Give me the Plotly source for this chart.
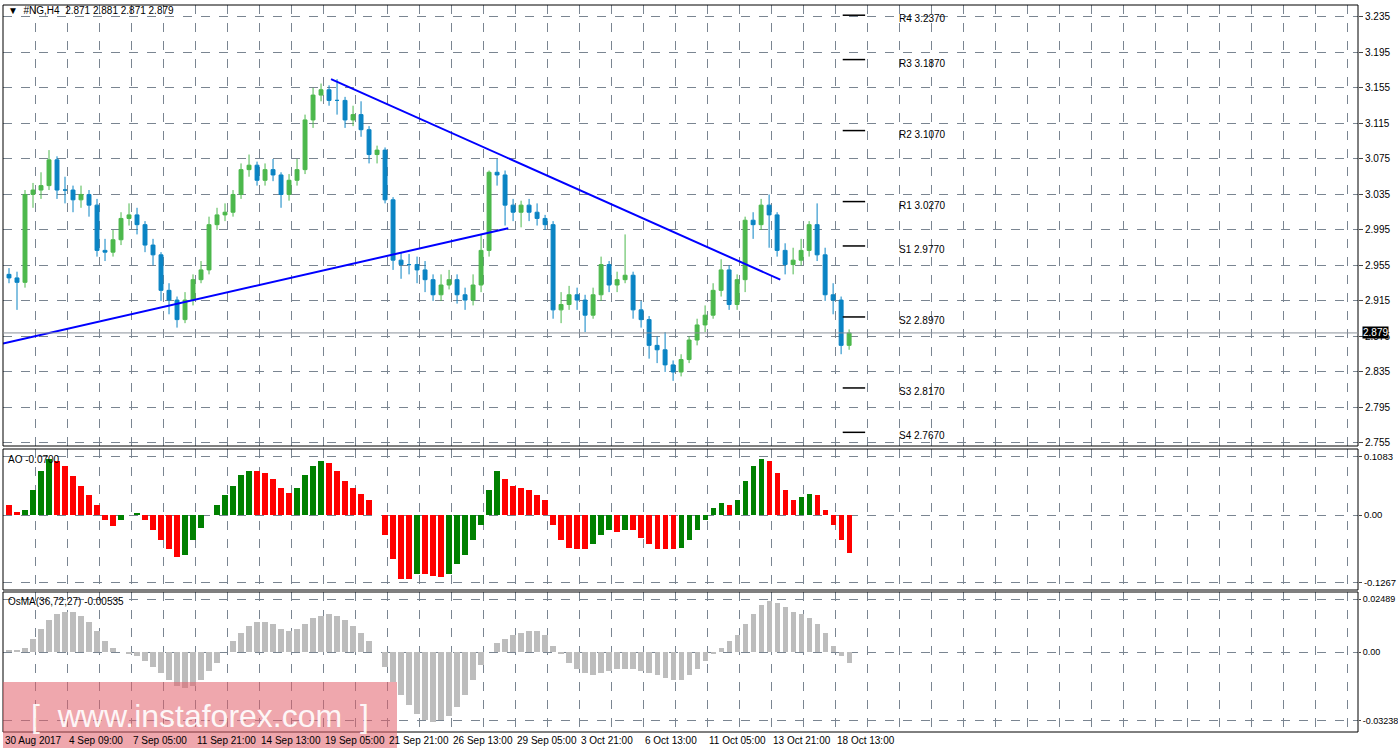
import plotly.graph_objects as go

close = [2.941,2.936,3.035,3.040,3.045,3.074,3.040,3.040,3.029,3.035,3.023,2.972,2.970,2.984,3.008,3.012,3.001,2.978,2.967,2.927,
         2.916,2.894,2.916,2.939,2.950,3.001,3.012,3.015,3.035,3.063,3.068,3.051,3.063,3.057,3.035,3.051,3.063,3.119,3.147,3.153,
         3.141,3.141,3.119,3.125,3.108,3.080,3.085,3.029,2.961,2.956,2.956,2.950,2.939,2.922,2.933,2.939,2.922,2.916,2.933,2.972,
         3.060,3.057,3.023,3.015,3.023,3.015,3.008,3.001,2.905,2.911,2.922,2.916,2.899,2.922,2.956,2.933,2.939,2.944,2.905,2.894,
         2.865,2.860,2.843,2.835,2.849,2.871,2.888,2.899,2.927,2.950,2.911,2.939,3.006,3.001,3.023,3.012,2.972,2.956,2.961,2.972,
         3.001,2.967,2.922,2.916,2.865,2.879]
high = [2.952,2.948,3.040,3.048,3.060,3.085,3.078,3.055,3.045,3.045,3.040,3.030,2.985,2.995,3.015,3.025,3.020,3.005,2.985,2.970,
        2.935,2.920,2.925,2.945,2.960,3.010,3.020,3.025,3.040,3.070,3.080,3.072,3.070,3.075,3.060,3.058,3.075,3.125,3.155,3.160,
        3.158,3.165,3.145,3.135,3.140,3.112,3.090,3.088,3.032,2.970,2.968,2.965,2.960,2.945,2.945,2.950,2.945,2.930,2.945,2.990,
        3.062,3.075,3.062,3.030,3.028,3.030,3.025,3.012,3.005,2.925,2.932,2.930,2.922,2.930,2.965,2.960,2.948,2.990,2.948,2.915,
        2.898,2.875,2.880,2.848,2.855,2.875,2.895,2.910,2.935,2.962,2.955,2.945,3.010,3.015,3.030,3.035,3.015,2.980,2.975,2.985,
        3.005,3.025,2.975,2.935,2.920,2.883]
low = [2.935,2.905,2.930,3.020,3.030,3.040,3.030,3.025,3.015,3.020,3.010,2.965,2.960,2.965,2.978,3.000,2.990,2.970,2.955,2.915,
       2.900,2.885,2.890,2.910,2.935,2.945,2.995,3.005,3.010,3.030,3.055,3.045,3.045,3.050,3.020,3.028,3.045,3.058,3.110,3.140,
       3.135,3.125,3.110,3.112,3.100,3.070,3.070,3.025,2.950,2.940,2.945,2.935,2.925,2.915,2.915,2.928,2.912,2.905,2.910,2.925,
       2.965,3.045,3.000,3.005,2.998,3.005,3.000,2.995,2.895,2.890,2.905,2.905,2.880,2.895,2.915,2.925,2.925,2.935,2.895,2.885,
       2.850,2.845,2.835,2.825,2.830,2.845,2.865,2.880,2.895,2.920,2.905,2.905,2.925,2.985,2.995,2.975,2.965,2.945,2.945,2.955,
       2.965,2.960,2.915,2.900,2.855,2.860]
first_open = 2.945
ao = [0.018,0.006,0.010,0.046,0.083,0.105,0.100,0.092,0.072,0.055,0.037,0.018,-0.009,-0.020,-0.010,0.000,0.004,-0.010,-0.028,-0.046,
      -0.064,-0.079,-0.074,-0.046,-0.024,0.000,0.018,0.037,0.055,0.074,0.083,0.083,0.079,0.068,0.050,0.042,0.050,0.074,0.092,0.101,
      0.098,0.083,0.064,0.050,0.040,0.028,0.000,-0.037,-0.083,-0.120,-0.120,-0.110,-0.110,-0.114,-0.116,-0.110,-0.092,-0.074,-0.046,-0.018,
      0.046,0.083,0.068,0.055,0.050,0.046,0.037,0.028,-0.018,-0.046,-0.061,-0.064,-0.064,-0.055,-0.037,-0.028,-0.031,-0.028,-0.028,-0.042,
      -0.055,-0.064,-0.064,-0.064,-0.061,-0.046,-0.028,-0.009,0.013,0.022,0.018,0.028,0.064,0.092,0.105,0.101,0.079,0.046,0.028,0.033,
      0.040,0.037,0.009,-0.018,-0.046,-0.070]
osma = [0.001,0.001,0.002,0.006,0.011,0.015,0.018,0.019,0.019,0.017,0.014,0.010,0.005,0.002,0.000,-0.001,-0.002,-0.004,-0.007,-0.010,
        -0.013,-0.016,-0.017,-0.016,-0.013,-0.009,-0.005,0.000,0.005,0.009,0.012,0.014,0.014,0.013,0.011,0.010,0.011,0.013,0.016,0.017,
        0.018,0.017,0.015,0.012,0.009,0.005,0.000,-0.007,-0.014,-0.020,-0.025,-0.029,-0.032,-0.033,-0.032,-0.030,-0.026,-0.020,-0.013,-0.006,
        0.000,0.004,0.006,0.008,0.009,0.010,0.010,0.008,0.003,-0.001,-0.005,-0.008,-0.010,-0.011,-0.010,-0.009,-0.008,-0.008,-0.008,-0.009,
        -0.010,-0.011,-0.012,-0.013,-0.013,-0.011,-0.008,-0.004,-0.001,0.002,0.005,0.008,0.013,0.018,0.022,0.024,0.023,0.021,0.019,0.018,
        0.016,0.013,0.009,0.003,-0.002,-0.005]
pivot_names = ["R4","R3","R2","R1","S1","S2","S3","S4"]
pivot_vals = [3.237,3.187,3.107,3.027,2.977,2.897,2.817,2.767]
trend1 = ([-0.75, 62.4], [2.867, 2.997])
trend2 = ([40.25, 96.4], [3.165, 2.939])
date_labels = ["30 Aug 2017","4 Sep 09:00","7 Sep 05:00","11 Sep 21:00","14 Sep 13:00","19 Sep 05:00","21 Sep 21:00",
               "26 Sep 13:00","29 Sep 05:00","3 Oct 21:00","6 Oct 13:00","11 Oct 05:00","13 Oct 21:00","18 Oct 13:00"]
date_pos = [-0.75,7.25,15.25,23.25,31.25,39.25,47.25,55.25,63.25,71.25,79.25,87.25,95.25,103.25]
main_ticks = [2.755,2.795,2.835,2.875,2.915,2.955,2.995,3.035,3.075,3.115,3.155,3.195,3.235]
ao_ticks = [-0.1267,0.0,0.1083]
osma_ticks = [-0.03238,0.0,0.02489]
last_price = 2.879

n = len(close)
xs = list(range(n))
opens = [first_open] + close[:-1]
fig = go.Figure()
fig.add_trace(go.Candlestick(x=xs, open=opens, high=high, low=low, close=close,
    increasing=dict(line=dict(color="#4cb84c", width=1), fillcolor="#4cb84c"),
    decreasing=dict(line=dict(color="#0a84c4", width=1), fillcolor="#0a84c4"),
    whiskerwidth=0, xaxis="x", yaxis="y", showlegend=False, hoverinfo="skip"))
fig.add_trace(go.Scatter(x=trend1[0], y=trend1[1], mode="lines", line=dict(color="#0000ff", width=2), yaxis="y", showlegend=False))
fig.add_trace(go.Scatter(x=trend2[0], y=trend2[1], mode="lines", line=dict(color="#0000ff", width=2), yaxis="y", showlegend=False))
ao_col = ["#008000" if i > 0 and ao[i] > ao[i-1] else "#ff0000" for i in range(len(ao))]
fig.add_trace(go.Bar(x=list(range(len(ao))), y=ao, marker=dict(color=ao_col, line=dict(width=0)), width=0.65, yaxis="y2", showlegend=False))
fig.add_trace(go.Bar(x=list(range(len(osma))), y=osma, marker=dict(color="#bdbdbd", line=dict(width=0)), width=0.65, yaxis="y3", showlegend=False))

W, H = 1398, 750
L, R, T, B = 3, 40, 5, 18
pw, ph = W - L - R, H - T - B
def py(p): return (H - B - p) / ph
def px(p): return (p - L) / pw

FONT = "Liberation Sans"
grid = dict(showgrid=True, gridcolor="#7a8591", griddash="dash", gridwidth=1, zeroline=False)
fig.update_layout(
    width=W, height=H, margin=dict(l=L, r=R, t=T, b=B, autoexpand=False), plot_bgcolor="white", paper_bgcolor="white",
    font=dict(family=FONT, size=10, color="black"), bargap=0, barmode="overlay",
    xaxis=dict(range=[-0.75, 168.6], tick0=3.25, dtick=4, showticklabels=False, rangeslider=dict(visible=False), **grid),
    yaxis=dict(domain=[py(446), 1], range=[2.7516, 3.2485], side="right", tickvals=main_ticks,
               ticktext=[f"{v:.3f}" for v in main_ticks], ticks="outside", ticklen=4, **grid),
    yaxis2=dict(domain=[py(590), py(449)], range=[-0.140, 0.1232], side="right", anchor="x", tickvals=ao_ticks,
                ticktext=["-0.1267","0.00","0.1083"], ticks="outside", ticklen=3, tickfont=dict(size=9.5), **grid),
    yaxis3=dict(domain=[0, py(592)], range=[-0.0376, 0.0282], side="right", anchor="x", tickvals=osma_ticks,
                ticktext=["-0.03238","0.00","0.02489"], ticks="outside", ticklen=2, tickfont=dict(size=9), **grid),
)
shapes = []
for y0, y1 in [(py(446), 1), (py(590), py(449)), (0, py(592))]:
    shapes.append(dict(type="rect", xref="paper", yref="paper", x0=0, x1=1, y0=y0, y1=y1, line=dict(color="black", width=1)))
shapes.append(dict(type="line", xref="paper", yref="y", x0=0, x1=1, y0=last_price, y1=last_price, line=dict(color="#8a9099", width=1)))
anns = []
for nm, v in zip(pivot_names, pivot_vals):
    shapes.append(dict(type="line", xref="x", yref="y", x0=104.2, x1=107.0, y0=v, y1=v, line=dict(color="black", width=1.5)))
    anns.append(dict(xref="x", yref="y", x=111.0, y=v - 0.004, text=f"{nm} {v:.4f}", showarrow=False, xanchor="left",
                     font=dict(size=10)))
for lab, p in zip(date_labels, date_pos):
    anns.append(dict(xref="x", yref="paper", x=p, y=-0.002, text=lab, showarrow=False, xanchor="left", yanchor="top",
                     font=dict(size=10)))
anns.append(dict(xref="paper", yref="y", x=1.003, y=last_price, text="2.879", showarrow=False, xanchor="left",
                 bgcolor="black", font=dict(color="white", size=10), borderpad=0))
anns.append(dict(xref="paper", yref="paper", x=px(6), y=py(10), text="▼  #NG,H4  2.871 2.881 2.871 2.879", showarrow=False,
                 xanchor="left", yanchor="middle", font=dict(size=10)))
anns.append(dict(xref="paper", yref="paper", x=px(6), y=py(459), text="AO -0.0700", showarrow=False,
                 xanchor="left", yanchor="middle", font=dict(size=10)))
anns.append(dict(xref="paper", yref="paper", x=px(6), y=py(601), text="OsMA(36,72,27) -0.00535", showarrow=False,
                 xanchor="left", yanchor="middle", font=dict(size=10)))
shapes.append(dict(type="rect", xref="paper", yref="paper", x0=px(3), x1=px(397), y0=py(748), y1=py(682),
                   fillcolor="rgba(225,95,105,0.55)", line=dict(width=0), layer="above"))
anns.append(dict(xref="paper", yref="paper", x=px(200), y=py(716), text="[  www.instaforex.com  ]", showarrow=False,
                 xanchor="center", yanchor="middle",
                 font=dict(size=32, color="rgba(255,255,255,0.92)", family=FONT)))
fig.update_layout(shapes=shapes, annotations=anns)
fig.write_html("out.html", config={"displayModeBar": False})
with open("out.html", encoding="utf-8") as f:
    html = f.read()
html = html.replace("<head>", "<head><style>html,body{margin:0;padding:0;overflow:hidden}</style>", 1)
with open("out.html", "w", encoding="utf-8") as f:
    f.write(html)
